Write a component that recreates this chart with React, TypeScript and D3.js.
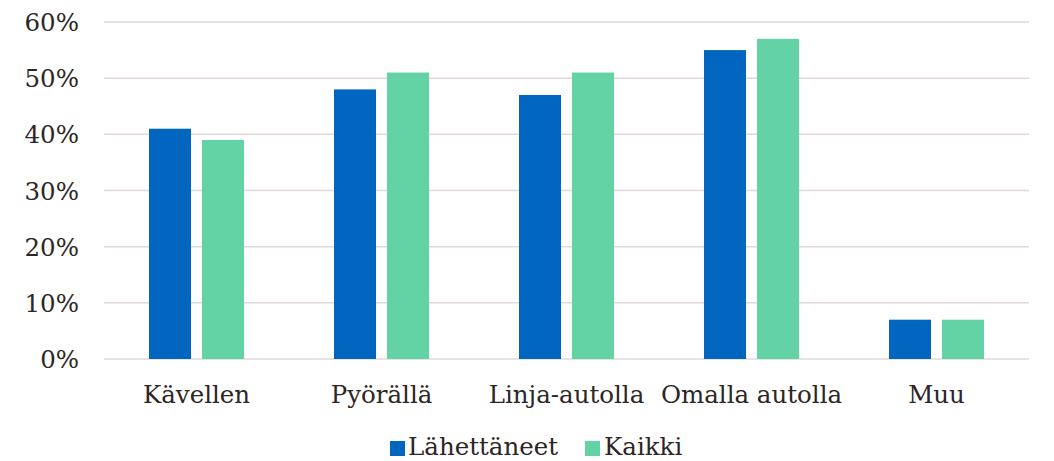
import React from "react";
import * as d3 from "d3";

const categories = ["Kävellen", "Pyörällä", "Linja-autolla", "Omalla autolla", "Muu"];
const lahettaneet = [41, 48, 47, 55, 7];
const kaikki = [39, 51, 51, 57, 7];
const seriesNames = ["Lähettäneet", "Kaikki"];
const yTicks = [0, 10, 20, 30, 40, 50, 60];

const W = 1054;
const H = 461;
const FONT = "DejaVu Serif, serif";
const FS = 24.5;
const TEXT = "#2e2525";
const COLORS = ["#0066bf", "#63d3a6"];

export default function App() {
  const x = d3.scaleBand<string>().domain(categories).range([104, 1029]);
  const y = d3.scaleLinear().domain([0, 60]).range([359, 22]);
  const bw = 42;
  const off = 26.5;
  const series = [lahettaneet, kaikki];

  return (
    <svg width={W} height={H} style={{ position: "absolute", left: 0, top: 0, background: "#fff" }}>
      {yTicks.map((t) => (
        <g key={t}>
          <line x1={104} x2={1029} y1={y(t)} y2={y(t)} stroke="#e2d8d8" strokeWidth={1.5} />
          <text x={79} y={y(t) + 9} textAnchor="end" fontFamily={FONT} fontSize={FS} fill={TEXT}>
            {t}%
          </text>
        </g>
      ))}
      {categories.map((c, i) => {
        const cx = (x(c) as number) + x.bandwidth() / 2;
        return (
          <g key={c}>
            {series.map((s, j) => (
              <rect
                key={j}
                x={cx + (j === 0 ? -off : off) - bw / 2}
                y={y(s[i])}
                width={bw}
                height={y(0) - y(s[i])}
                fill={COLORS[j]}
              />
            ))}
            <text x={cx} y={403} textAnchor="middle" fontFamily={FONT} fontSize={FS} fill={TEXT}>
              {c}
            </text>
          </g>
        );
      })}
      <g>
        <rect x={390} y={441} width={15} height={15} fill={COLORS[0]} />
        <text x={408} y={455} fontFamily={FONT} fontSize={FS} fill={TEXT}>{seriesNames[0]}</text>
        <rect x={585} y={441} width={15} height={15} fill={COLORS[1]} />
        <text x={604} y={455} fontFamily={FONT} fontSize={FS} fill={TEXT}>{seriesNames[1]}</text>
      </g>
    </svg>
  );
}
